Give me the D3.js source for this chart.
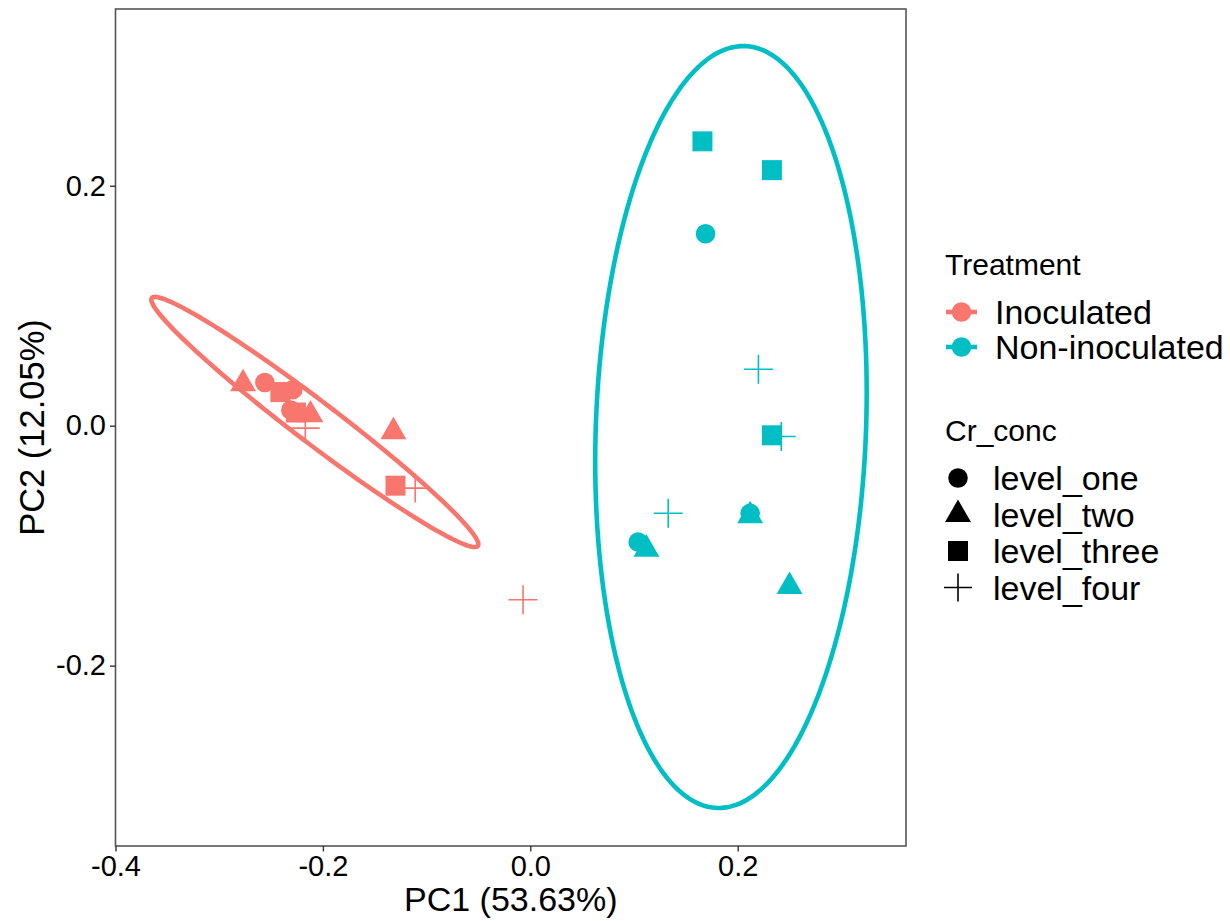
<!DOCTYPE html>
<html>
<head>
<meta charset="utf-8">
<script src="https://cdn.jsdelivr.net/npm/d3@7"></script>
<style>
  body { margin: 0; background: #fff; }
  text { font-family: "Liberation Sans", Arial, sans-serif; fill: #000; }
</style>
</head>
<body>
<svg id="chart" width="1230" height="921"></svg>
<script>
// ---- data ----
const treatments = ["Inoculated", "Non-inoculated"];
const levels = ["level_one", "level_two", "level_three", "level_four"];
const xTicks = [-0.4, -0.2, 0.0, 0.2];
const yTicks = [-0.2, 0.0, 0.2];
const xTitle = "PC1 (53.63%)";
const yTitle = "PC2 (12.05%)";

// one entry per sample
const sampleTreatment = [
  "Inoculated", "Inoculated", "Inoculated",
  "Inoculated", "Inoculated", "Inoculated",
  "Inoculated", "Inoculated", "Inoculated",
  "Inoculated", "Inoculated", "Inoculated",
  "Non-inoculated", "Non-inoculated", "Non-inoculated",
  "Non-inoculated", "Non-inoculated", "Non-inoculated",
  "Non-inoculated", "Non-inoculated", "Non-inoculated",
  "Non-inoculated", "Non-inoculated", "Non-inoculated"
];
const sampleLevel = [
  "level_one", "level_one", "level_one",
  "level_two", "level_two", "level_two",
  "level_three", "level_three", "level_three",
  "level_four", "level_four", "level_four",
  "level_one", "level_one", "level_one",
  "level_two", "level_two", "level_two",
  "level_three", "level_three", "level_three",
  "level_four", "level_four", "level_four"
];
const pc1 = [
  -0.256, -0.229, -0.231,
  -0.277, -0.212, -0.132,
  -0.241, -0.226, -0.130,
  -0.217, -0.111, -0.007,
   0.169,  0.104,  0.212,
   0.112,  0.212,  0.250,
   0.166,  0.233,  0.233,
   0.220,  0.242,  0.133
];
const pc2 = [
   0.036,  0.030,  0.013,
   0.035,  0.009, -0.005,
   0.028,  0.011, -0.050,
  -0.002, -0.052, -0.145,
   0.160, -0.097, -0.073,
  -0.103, -0.075, -0.134,
   0.237,  0.213, -0.008,
   0.047, -0.009, -0.073
];

// 95% confidence ellipses per treatment: centre and two conjugate semi-axes (PC units)
const ellipseCentre = [[-0.2078, 0.0031], [0.1935, -0.0011]];
const ellipseAxisA  = [[0.1572, -0.1033], [0.0135, 0.3175]];
const ellipseAxisB  = [[-0.0122, -0.0139], [0.1302, -0.0041]];

// ---- layout ----
const svg = d3.select("#chart");
const panel = { left: 115.5, right: 906, top: 9, bottom: 846 };

const x = d3.scaleLinear().domain([-0.4, 0.3623]).range([panel.left, panel.right]);
const y = d3.scaleLinear().domain([-0.3503, 0.3473]).range([panel.bottom, panel.top]);

const colour = d3.scaleOrdinal().domain(treatments).range(["#F8766D", "#00BFC4"]);

const shapeSize = { circle: 300, triangle: 290, square: 400 };
function shapePath(level, plusHalf) {
  if (level === "level_one") return d3.symbol(d3.symbolCircle, shapeSize.circle)();
  if (level === "level_two") return d3.symbol(d3.symbolTriangle, shapeSize.triangle)();
  if (level === "level_three") return d3.symbol(d3.symbolSquare, shapeSize.square)();
  const h = plusHalf;
  return `M${-h},0H${h}M0,${-h}V${h}`;
}
const isPlus = l => l === "level_four";

// ---- panel ----
svg.append("rect")
  .attr("x", panel.left).attr("y", panel.top)
  .attr("width", panel.right - panel.left).attr("height", panel.bottom - panel.top)
  .attr("fill", "#fff");

// ellipses
const ellipseLine = d3.line().x(d => x(d[0])).y(d => y(d[1])).curve(d3.curveLinearClosed);
treatments.forEach((t, i) => {
  const pts = d3.range(0, 2 * Math.PI, Math.PI / 90).map(a => [
    ellipseCentre[i][0] + ellipseAxisA[i][0] * Math.cos(a) + ellipseAxisB[i][0] * Math.sin(a),
    ellipseCentre[i][1] + ellipseAxisA[i][1] * Math.cos(a) + ellipseAxisB[i][1] * Math.sin(a)
  ]);
  svg.append("path")
    .attr("d", ellipseLine(pts))
    .attr("fill", "none")
    .attr("stroke", colour(t))
    .attr("stroke-width", 4.6);
});

// points
const samples = pc1.map((v, i) => ({ pc1: v, pc2: pc2[i], treatment: sampleTreatment[i], level: sampleLevel[i] }));
svg.append("g").selectAll("path")
  .data(samples)
  .join("path")
  .attr("transform", d => `translate(${x(d.pc1)},${y(d.pc2)})`)
  .attr("d", d => shapePath(d.level, 14.5))
  .attr("fill", d => isPlus(d.level) ? "none" : colour(d.treatment))
  .attr("stroke", d => isPlus(d.level) ? colour(d.treatment) : "none")
  .attr("stroke-width", 1.6);

// border
svg.append("rect")
  .attr("x", panel.left).attr("y", panel.top)
  .attr("width", panel.right - panel.left).attr("height", panel.bottom - panel.top)
  .attr("fill", "none").attr("stroke", "#555").attr("stroke-width", 1.6);

// ---- axes ----
const fmt = v => d3.format(".1f")(v).replace("\u2212", "-");
const xAxis = svg.append("g")
  .attr("transform", `translate(0,${panel.bottom})`)
  .call(d3.axisBottom(x).tickValues(xTicks).tickFormat(fmt).tickSize(5.5).tickPadding(4));
const yAxis = svg.append("g")
  .attr("transform", `translate(${panel.left},0)`)
  .call(d3.axisLeft(y).tickValues(yTicks).tickFormat(fmt).tickSize(5.5).tickPadding(4));
[xAxis, yAxis].forEach(g => {
  g.select(".domain").remove();
  g.selectAll(".tick line").attr("stroke", "#333").attr("stroke-width", 1.4);
  g.selectAll(".tick text").attr("fill", "#000").style("font-size", "29px")
    .style("font-family", '"Liberation Sans", Arial, sans-serif');
});

svg.append("text")
  .attr("x", (panel.left + panel.right) / 2).attr("y", 911)
  .attr("text-anchor", "middle").style("font-size", "34px")
  .text(xTitle);
svg.append("text")
  .attr("transform", `translate(44,${(panel.top + panel.bottom) / 2}) rotate(-90)`)
  .attr("text-anchor", "middle").style("font-size", "34.5px")
  .text(yTitle);

// ---- legends ----
const lg = svg.append("g");
lg.append("text").attr("x", 945).attr("y", 275).style("font-size", "30px").text("Treatment");
treatments.forEach((t, i) => {
  const cy = 312 + i * 35;
  lg.append("line").attr("x1", 946).attr("x2", 977).attr("y1", cy).attr("y2", cy)
    .attr("stroke", colour(t)).attr("stroke-width", 4.6);
  lg.append("path").attr("transform", `translate(961.5,${cy})`)
    .attr("d", d3.symbol(d3.symbolCircle, 300)()).attr("fill", colour(t));
  lg.append("text").attr("x", 995).attr("y", cy + 12).style("font-size", "34px").text(t);
});

lg.append("text").attr("x", 945).attr("y", 441).style("font-size", "30px").text("Cr_conc");
levels.forEach((l, i) => {
  const cy = 478 + i * 36.5;
  lg.append("path").attr("transform", `translate(958,${cy})`)
    .attr("d", shapePath(l, 14))
    .attr("fill", isPlus(l) ? "none" : "#000")
    .attr("stroke", isPlus(l) ? "#000" : "none")
    .attr("stroke-width", 1.6);
  lg.append("text").attr("x", 993).attr("y", cy + 12).style("font-size", "34px").text(l);
});
</script>
</body>
</html>
